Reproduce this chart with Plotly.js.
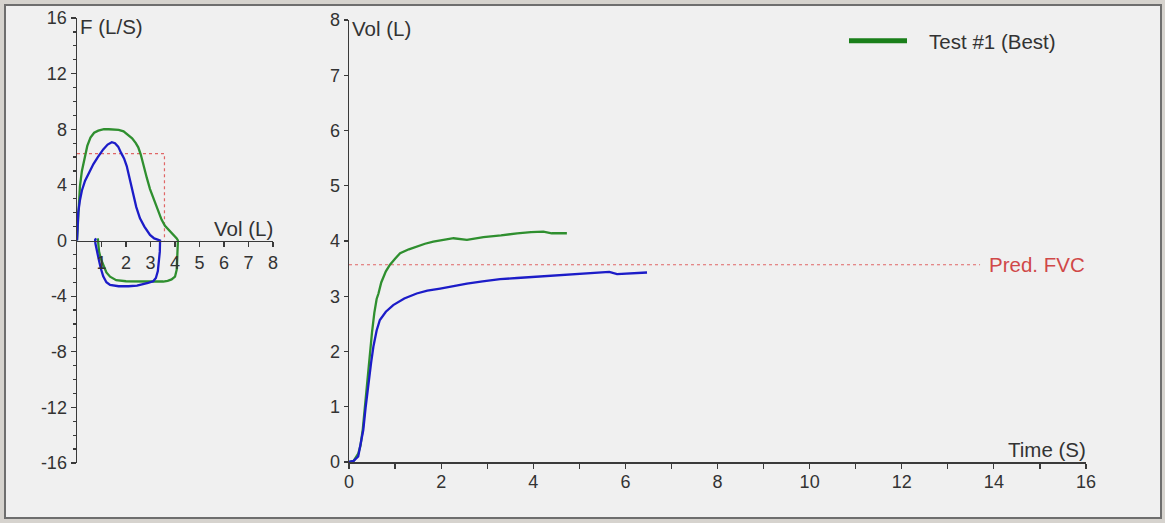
<!DOCTYPE html>
<html>
<head>
<meta charset="utf-8">
<script src="https://cdn.plot.ly/plotly-3.0.1.min.js"></script>
<style>html,body{margin:0;padding:0;background:#d6d3ce;}#chart{width:1165px;height:523px;}</style>
</head>
<body>
<div id="chart"></div>
<script>
// ---- Flow-volume loop data (Vol L, Flow L/S) ----
const greenLoopVol = [0, 0.03, 0.07, 0.12, 0.2, 0.3, 0.42, 0.55, 0.7, 0.87, 1.1, 1.3, 1.5, 1.7, 1.9, 2.1, 2.25, 2.4, 2.5, 2.6, 2.71, 2.85, 2.98, 3.15, 3.32, 3.45, 3.59, 3.72, 3.86, 3.98, 4.07, 4.12,
  4.1, 4.08, 4.07, 4.0, 3.86, 3.7, 3.52, 3.0, 2.5, 2.0, 1.6, 1.35, 1.2, 1.07, 0.97, 0.9, 0.87, 0.87, 0.85];
const greenLoopFlow = [0, 1.2, 2.6, 3.9, 5.0, 5.9, 6.8, 7.4, 7.75, 7.9, 8.0, 8.0, 8.0, 7.95, 7.85, 7.6, 7.35, 7.0, 6.7, 6.2, 5.4, 4.5, 3.7, 2.9, 2.2, 1.5, 1.05, 0.8, 0.55, 0.35, 0.15, 0.0,
  -0.6, -1.3, -2.1, -2.6, -2.8, -2.9, -2.95, -2.95, -2.95, -2.93, -2.85, -2.6, -2.3, -1.8, -1.3, -0.8, -0.3, 0.07, 0.15];
const blueLoopVol = [0, 0.02, 0.05, 0.12, 0.2, 0.33, 0.5, 0.67, 0.85, 1.07, 1.25, 1.42, 1.55, 1.68, 1.8, 1.92, 2.03, 2.15, 2.3, 2.42, 2.57, 2.75, 2.98, 3.15, 3.32, 3.39,
  3.38, 3.35, 3.3, 3.22, 3.11, 2.9, 2.6, 2.45, 2.1, 1.7, 1.35, 1.2, 1.07, 0.97, 0.88, 0.8, 0.75, 0.74, 0.78];
const blueLoopFlow = [0, 1.0, 2.0, 2.9, 3.6, 4.3, 4.95, 5.5, 6.0, 6.55, 6.9, 7.07, 7.0, 6.75, 6.3, 5.9, 5.35, 4.4, 3.2, 2.4, 1.6, 1.0, 0.4, 0.15, 0.05, 0.0,
  -0.8, -1.6, -2.2, -2.7, -2.93, -3.05, -3.15, -3.25, -3.29, -3.29, -3.2, -3.0, -2.57, -2.0, -1.3, -0.7, -0.2, 0.05, 0.15];

// ---- Volume-time data (Time S, Vol L) ----
const greenTime = [0, 0.1, 0.2, 0.25, 0.3, 0.35, 0.4, 0.46, 0.5, 0.55, 0.6, 0.64, 0.7, 0.8, 0.89, 1.0, 1.11, 1.3, 1.47, 1.65, 1.83, 2.05, 2.27, 2.56, 2.92, 3.3, 3.65, 3.95, 4.22, 4.4, 4.73];
const greenVol = [0, 0.02, 0.15, 0.3, 0.6, 1.05, 1.5, 2.03, 2.35, 2.7, 2.95, 3.05, 3.25, 3.45, 3.57, 3.68, 3.78, 3.85, 3.9, 3.95, 3.99, 4.02, 4.05, 4.02, 4.07, 4.1, 4.14, 4.16, 4.17, 4.14, 4.14];
const blueTime = [0, 0.1, 0.2, 0.25, 0.31, 0.36, 0.42, 0.48, 0.53, 0.6, 0.67, 0.8, 0.96, 1.2, 1.47, 1.7, 1.98, 2.3, 2.56, 2.9, 3.28, 3.65, 4.01, 4.4, 4.73, 5.1, 5.46, 5.65, 5.82, 6.1, 6.47];
const blueVol = [0, 0.02, 0.1, 0.3, 0.58, 0.98, 1.42, 1.8, 2.09, 2.38, 2.57, 2.72, 2.84, 2.96, 3.05, 3.1, 3.14, 3.19, 3.23, 3.27, 3.31, 3.33, 3.35, 3.38, 3.40, 3.42, 3.43, 3.44, 3.40, 3.41, 3.43];

// ---- Predicted values ----
const PRED_FVC = 3.57;
const PRED_PEF = 6.25;
const PRED_LINE_END = 13.7;

// ---- Tick labels ----
const loopFlowTicks = [-16, -12, -8, -4, 0, 4, 8, 12, 16];
const loopFlowLabels = ["-16", "-12", "-8", "-4", "0", "4", "8", "12", "16"];
const loopVolTicks = [1, 2, 3, 4, 5, 6, 7, 8];
const loopVolLabels = ["1", "2", "3", "4", "5", "6", "7", "8"];
const timeTicks = [0, 2, 4, 6, 8, 10, 12, 14, 16];
const timeLabels = ["0", "2", "4", "6", "8", "10", "12", "14", "16"];
const volTicks = [0, 1, 2, 3, 4, 5, 6, 7, 8];
const volLabels = ["0", "1", "2", "3", "4", "5", "6", "7", "8"];

const W = 1165, H = 523;
const px = v => v / W, py = v => 1 - v / H;

const GREEN = '#2f8f2f', BLUE = '#1c1cc8', RED = '#e06666', AX = '#3a3a3a', TXT = '#333333';
const FONT = 'Liberation Sans, Arial, sans-serif';
const TFS = 20.5;

const traces = [
  {x: [0, PRED_FVC, PRED_FVC], y: [PRED_PEF, PRED_PEF, 0], xaxis: 'x', yaxis: 'y', mode: 'lines',
   line: {color: RED, width: 1.2, dash: 'dot'}, showlegend: false, hoverinfo: 'skip'},
  {x: greenLoopVol, y: greenLoopFlow, xaxis: 'x', yaxis: 'y', mode: 'lines',
   line: {color: GREEN, width: 2.3}, showlegend: false},
  {x: blueLoopVol, y: blueLoopFlow, xaxis: 'x', yaxis: 'y', mode: 'lines',
   line: {color: BLUE, width: 2.3}, showlegend: false},
  {x: [0, PRED_LINE_END], y: [PRED_FVC, PRED_FVC], xaxis: 'x2', yaxis: 'y2', mode: 'lines',
   line: {color: RED, width: 1.2, dash: 'dot'}, showlegend: false, hoverinfo: 'skip'},
  {x: greenTime, y: greenVol, xaxis: 'x2', yaxis: 'y2', mode: 'lines',
   line: {color: GREEN, width: 2.3}, showlegend: false},
  {x: blueTime, y: blueVol, xaxis: 'x2', yaxis: 'y2', mode: 'lines',
   line: {color: BLUE, width: 2.3}, showlegend: false},
  {x: [null], y: [null], xaxis: 'x2', yaxis: 'y2', mode: 'lines', name: '\u00a0\u00a0\u00a0Test #1 (Best)',
   line: {color: '#1a7f1a', width: 5}, showlegend: true}
];

const loopYDom = [py(463), py(18)];
const axisCommon = {showgrid: false, zeroline: false, showline: true, linecolor: AX, linewidth: 1.5,
  ticks: 'outside', tickcolor: AX, tickwidth: 1.2, tickfont: {family: FONT, size: 18, color: TXT}, fixedrange: true};

const layout = {
  width: W, height: H,
  margin: {l: 0, r: 0, t: 0, b: 0, pad: 0},
  paper_bgcolor: '#d6d3ce',
  plot_bgcolor: 'rgba(0,0,0,0)',
  font: {family: FONT, size: 18, color: TXT},
  showlegend: true,
  legend: {x: px(844), y: py(21), xanchor: 'left', yanchor: 'top', bgcolor: 'rgba(0,0,0,0)',
    font: {family: FONT, size: TFS, color: TXT}, itemwidth: 58},
  xaxis: Object.assign({}, axisCommon, {domain: [px(77), px(273)], range: [0, 8], anchor: 'free',
    position: (loopYDom[0] + loopYDom[1]) / 2, tickmode: 'array', tickvals: loopVolTicks, ticktext: loopVolLabels, ticklen: 5}),
  yaxis: Object.assign({}, axisCommon, {domain: loopYDom, range: [-16, 16], anchor: 'x',
    tickmode: 'array', tickvals: loopFlowTicks, ticktext: loopFlowLabels, ticklen: 5,
    minor: {dtick: 1, ticklen: 3, tickcolor: AX, ticks: 'outside'}}),
  xaxis2: Object.assign({}, axisCommon, {domain: [px(349), px(1086)], range: [0, 16], anchor: 'y2',
    tickmode: 'array', tickvals: timeTicks, ticktext: timeLabels, ticklen: 5, ticklabelstandoff: -2,
    minor: {dtick: 1, ticklen: 5, tickcolor: AX, ticks: 'outside'}}),
  yaxis2: Object.assign({}, axisCommon, {domain: [py(462), py(20)], range: [0, 8], anchor: 'x2',
    tickmode: 'array', tickvals: volTicks, ticktext: volLabels, ticklen: 4}),
  shapes: [
    {type: 'rect', xref: 'paper', yref: 'paper', x0: px(5), x1: px(1161), y0: py(518), y1: py(5),
     fillcolor: '#f0f0f0', line: {color: '#6e6e6e', width: 2}, layer: 'below'}
  ],
  annotations: [
    {xref: 'x', yref: 'y', x: 0, y: 16, xanchor: 'left', yanchor: 'top', xshift: 1, yshift: 5,
     text: 'F (L/S)', showarrow: false, font: {family: FONT, size: TFS, color: TXT}},
    {xref: 'x', yref: 'y', x: 8, y: 0, xanchor: 'right', yanchor: 'bottom', xshift: 2, yshift: -1,
     text: 'Vol (L)', showarrow: false, font: {family: FONT, size: TFS, color: TXT}},
    {xref: 'x2', yref: 'y2', x: 0, y: 8, xanchor: 'left', yanchor: 'top', xshift: 1, yshift: 5,
     text: 'Vol (L)', showarrow: false, font: {family: FONT, size: TFS, color: TXT}},
    {xref: 'x2', yref: 'y2', x: 16, y: 0, xanchor: 'right', yanchor: 'bottom', xshift: 2, yshift: -1,
     text: 'Time (S)', showarrow: false, font: {family: FONT, size: TFS, color: TXT}},
    {xref: 'x2', yref: 'y2', x: PRED_LINE_END, y: PRED_FVC, xanchor: 'left', yanchor: 'middle', xshift: 7,
     text: 'Pred. FVC', showarrow: false, font: {family: FONT, size: TFS, color: '#d04848'}}
  ]
};

Plotly.newPlot('chart', traces, layout, {displayModeBar: false, staticPlot: true});
</script>
</body>
</html>
